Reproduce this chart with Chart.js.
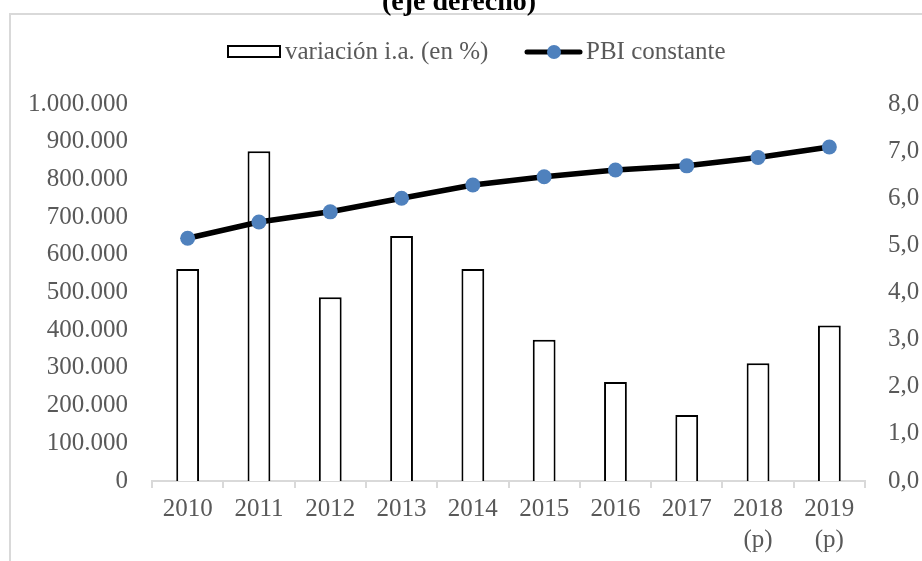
<!DOCTYPE html>
<html>
<head>
<meta charset="utf-8">
<script src="https://cdn.jsdelivr.net/npm/chart.js@4.4.1/dist/chart.umd.min.js"></script>
<style>
    html, body { margin: 0; padding: 0; background: #fff; }
</style>
</head>
<body>
<canvas id="myChart" width="922" height="561"></canvas>
<script>
// data
const years = ['2010', '2011', '2012', '2013', '2014', '2015', '2016', '2017', ['2018', '(p)'], ['2019', '(p)']];
const variacion = [4.5, 7.0, 3.9, 5.2, 4.5, 3.0, 2.1, 1.4, 2.5, 3.3]; // % (eje derecho)
const pbiConstante = [644000, 687000, 714000, 750000, 785000, 807000, 825000, 836000, 858000, 886000];

const titleText = '(eje derecho)';
const barLabel = 'variación i.a. (en %)';
const lineLabel = 'PBI constante';

const grey = '#595959';
const serif = '"Liberation Serif", "Times New Roman", serif';

// frame, cut-off title and legend drawn by hand (Excel style)
const decorations = {
    id: 'decorations',
    beforeDraw(chart) {
        const ctx = chart.ctx;
        ctx.save();
        ctx.strokeStyle = '#d9d9d9';
        ctx.lineWidth = 2;
        ctx.strokeRect(10, 14, 1000, 1000);
        ctx.restore();
    },
    afterDraw(chart) {
        const ctx = chart.ctx;
        ctx.save();
        // title, mostly outside the picture
        ctx.font = 'bold 28px ' + serif;
        ctx.fillStyle = '#000';
        ctx.textAlign = 'center';
        ctx.textBaseline = 'alphabetic';
        ctx.fillText(titleText, 459, 10);

        // legend
        const ly = 52;
        ctx.font = '25px ' + serif;
        ctx.fillStyle = grey;
        ctx.textAlign = 'left';
        ctx.textBaseline = 'middle';

        ctx.fillStyle = '#fff';
        ctx.fillRect(228, 46, 52, 11);
        ctx.strokeStyle = '#000';
        ctx.lineWidth = 2;
        ctx.strokeRect(228, 46, 52, 11);
        ctx.fillStyle = grey;
        ctx.fillText(barLabel, 285, ly);

        ctx.strokeStyle = '#000';
        ctx.lineWidth = 5;
        ctx.lineCap = 'round';
        ctx.beginPath();
        ctx.moveTo(527, ly);
        ctx.lineTo(580, ly);
        ctx.stroke();
        ctx.fillStyle = '#4f81bd';
        ctx.beginPath();
        ctx.arc(554, ly, 7, 0, Math.PI * 2);
        ctx.fill();
        ctx.fillStyle = grey;
        ctx.fillText(lineLabel, 586, ly);
        ctx.restore();
    }
};

function createChart() {
    const ctx = document.getElementById('myChart').getContext('2d');
    return new Chart(ctx, {
        type: 'bar',
        data: {
            labels: years,
            datasets: [{
                type: 'line',
                label: lineLabel,
                data: pbiConstante,
                yAxisID: 'y',
                borderColor: '#000',
                borderWidth: 5.5,
                pointRadius: 7.5,
                pointBackgroundColor: '#4f81bd',
                pointBorderColor: '#4f81bd',
                pointBorderWidth: 0,
                tension: 0,
                order: 0
            }, {
                type: 'bar',
                label: barLabel,
                data: variacion,
                yAxisID: 'y1',
                backgroundColor: '#fff',
                borderColor: '#000',
                borderWidth: 2,
                barPercentage: 0.32,
                categoryPercentage: 1,
                order: 1
            }]
        },
        options: {
            responsive: false,
            animation: false,
            layout: { padding: { top: 104, left: 0, right: 0, bottom: 0 } },
            plugins: {
                legend: { display: false },
                tooltip: { enabled: false }
            },
            scales: {
                x: {
                    offset: true,
                    grid: {
                        display: true,
                        drawOnChartArea: false,
                        drawTicks: true,
                        tickLength: 7,
                        color: '#d9d9d9',
                        lineWidth: 2
                    },
                    border: { display: true, color: '#d9d9d9', width: 2 },
                    ticks: {
                        color: grey,
                        font: { family: serif, size: 25, lineHeight: 1.25 },
                        padding: 6,
                        maxRotation: 0,
                        autoSkip: false
                    },
                    afterFit(scale) { scale.height = 80; }
                },
                y: {
                    position: 'left',
                    min: 0,
                    max: 1000000,
                    grid: { display: false, drawTicks: false },
                    border: { display: false },
                    ticks: {
                        stepSize: 100000,
                        color: grey,
                        font: { family: serif, size: 25 },
                        padding: 24,
                        callback: v => v.toLocaleString('de-DE')
                    },
                    afterFit(scale) { scale.width = 152; }
                },
                y1: {
                    position: 'right',
                    min: 0,
                    max: 8,
                    grid: { display: false, drawTicks: false },
                    border: { display: false },
                    ticks: {
                        stepSize: 1,
                        color: grey,
                        font: { family: serif, size: 25 },
                        padding: 23,
                        callback: v => v.toFixed(1).replace('.', ',')
                    },
                    afterFit(scale) { scale.width = 57; }
                }
            }
        },
        plugins: [decorations]
    });
}

createChart();
</script>
</body>
</html>
